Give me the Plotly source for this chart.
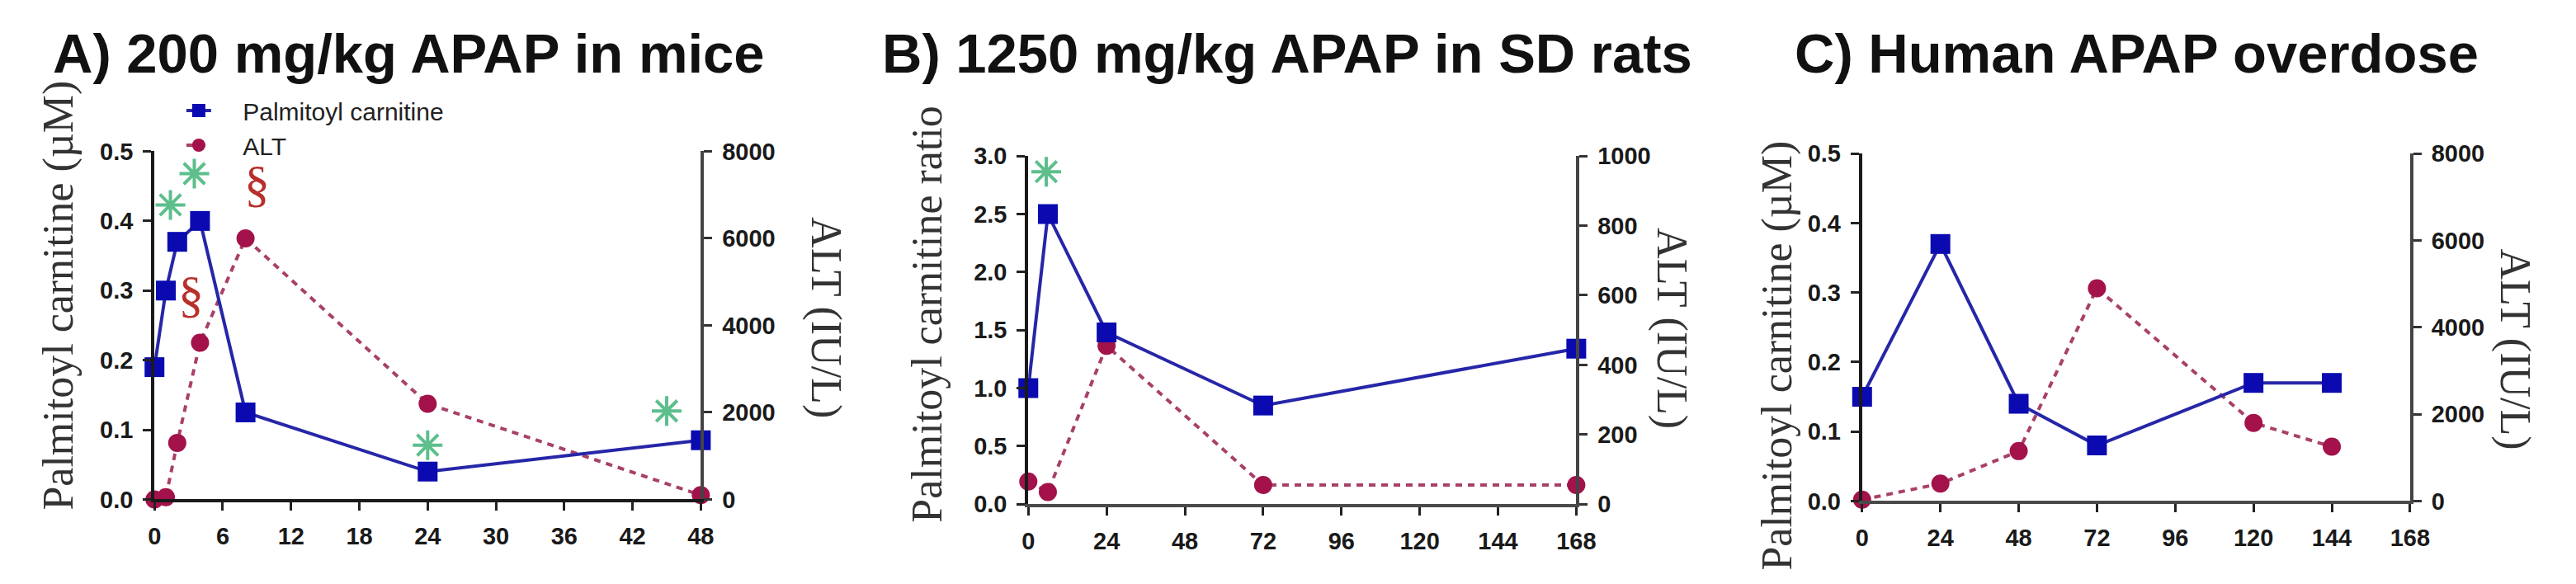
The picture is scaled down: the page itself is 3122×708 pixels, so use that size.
import plotly.graph_objects as go

W, H = 3122, 708

# ---------------- data ----------------
# Panel A: 200 mg/kg APAP in mice
a_time = [0, 1, 2, 4, 8, 24, 48]
a_pc = [0.19, 0.30, 0.37, 0.40, 0.125, 0.04, 0.085]
a_alt = [0, 50, 1300, 3600, 6000, 2200, 100]
a_star_t = [1.4, 3.5, 24, 45]
a_star_y = [0.423, 0.468, 0.078, 0.127]
a_sect_t = [3.2, 9.0]
a_sect_y = [0.294, 0.453]

# Panel B: 1250 mg/kg APAP in SD rats
b_time = [0, 6, 24, 72, 168]
b_pc = [1.0, 2.5, 1.48, 0.85, 1.34]
b_alt = [65, 35, 455, 55, 55]
b_star_t = [5.5]
b_star_y = [2.865]

# Panel C: Human APAP overdose
c_time = [0, 24, 48, 72, 120, 144]
c_pc = [0.15, 0.37, 0.14, 0.08, 0.17, 0.17]
c_alt = [30, 400, 1150, 4900, 1800, 1250]

titles = ["A) 200 mg/kg APAP in mice", "B) 1250 mg/kg APAP in SD rats", "C) Human APAP overdose"]
left_titles = ["Palmitoyl carnitine (µM)", "Palmitoyl carnitine ratio", "Palmitoyl carnitine (µM)"]
right_title = "ALT (IU/L)"
legend_names = ["Palmitoyl carnitine", "ALT"]

a_xticks = [0, 6, 12, 18, 24, 30, 36, 42, 48]
bc_xticks = [0, 24, 48, 72, 96, 120, 144, 168]
a_pc_ticks = [0.0, 0.1, 0.2, 0.3, 0.4, 0.5]
b_pc_ticks = [0.0, 0.5, 1.0, 1.5, 2.0, 2.5, 3.0]
a_alt_ticks = [0, 2000, 4000, 6000, 8000]
b_alt_ticks = [0, 200, 400, 600, 800, 1000]

# ---------------- styles ----------------
BLUE_M = "#0a0ab0"
BLUE_L = "#2626a8"
RED_M = "#a3124a"
RED_L = "#a8406a"
GREEN = "#5cbf8c"
SECT = "#b8302c"
TICKFONT = dict(family="Liberation Sans, Arial", size=29, color="#1a1a1a", weight="bold")
SERIF = "Liberation Serif, Times New Roman"
PAD = "\u00a0" * 4


def xp(px):
    return px / W


def yp(py):
    return 1 - py / H


panels = [
    dict(xd=(173, 842), yd=(167, 609), t=a_time, pc=a_pc, alt=a_alt,
         xr=[0, 48], xt=a_xticks, pr=[0, 0.5], pt=a_pc_ticks,
         ar=[0, 8000], at=a_alt_ticks, st=a_star_t, sy=a_star_y, xl="#1a1a1a",
         title_c=(484, 42), lt=(56, 350), rt=(995, 378)),
    dict(xd=(1243, 1914), yd=(173, 615), t=b_time, pc=b_pc, alt=b_alt,
         xr=[0, 168], xt=bc_xticks, pr=[0, 3.0], pt=b_pc_ticks,
         ar=[0, 1000], at=b_alt_ticks, st=b_star_t, sy=b_star_y, xl="#4a4a4a",
         title_c=(1560, 42), lt=(1119, 374), rt=(2031, 392)),
    dict(xd=(2264, 2935), yd=(170, 611), t=c_time, pc=c_pc, alt=c_alt,
         xr=[0, 168], xt=bc_xticks, pr=[0, 0.5], pt=a_pc_ticks,
         ar=[0, 8000], at=a_alt_ticks, st=[], sy=[], xl="#4a4a4a",
         title_c=(2600, 42), lt=(2160, 426), rt=(3063, 418)),
]

fig = go.Figure()
layout = dict(
    width=W, height=H, margin=dict(l=0, r=0, t=0, b=0), autosize=False,
    paper_bgcolor="white", plot_bgcolor="white",
    annotations=[],
    legend=dict(x=xp(207), y=yp(88), xanchor="left", yanchor="top",
                font=dict(family="Liberation Sans, Arial", size=30, color="#222"),
                bgcolor="rgba(0,0,0,0)", tracegroupgap=12,
                traceorder="normal"),
)

for i, p in enumerate(panels):
    xn = "x" if i == 0 else f"x{i+1}"
    ybase_n = "y" if i == 0 else f"y{2*i+1}"
    yover_n = f"y{2*i+2}"
    xkey = "xaxis" if i == 0 else f"xaxis{i+1}"
    ybkey = "yaxis" if i == 0 else f"yaxis{2*i+1}"
    yokey = f"yaxis{2*i+2}"

    layout[xkey] = dict(
        domain=[xp(p["xd"][0]), xp(p["xd"][1])], range=p["xr"], anchor=ybase_n,
        showline=True, linecolor=p["xl"], linewidth=4, ticks="outside", ticklen=10,
        tickwidth=3, tickcolor="#222", tickvals=p["xt"], tickfont=TICKFONT,
        showgrid=False, zeroline=False, ticklabelstandoff=6, fixedrange=True)
    layout[ybkey] = dict(
        domain=[yp(p["yd"][1]), yp(p["yd"][0])], range=p["ar"], anchor=xn, side="right",
        showline=True, linecolor="#444", linewidth=4, ticks="outside", ticklen=10,
        tickwidth=3, tickcolor="#333", tickvals=p["at"], tickfont=TICKFONT,
        showgrid=False, zeroline=False, ticklabelstandoff=6, fixedrange=True)
    layout[yokey] = dict(
        overlaying=ybase_n, range=p["pr"], anchor=xn, side="left",
        showline=True, linecolor="#1a1a1a", linewidth=4, ticks="outside", ticklen=10,
        tickwidth=3, tickcolor="#222", tickvals=p["pt"], tickformat=".1f",
        tickfont=TICKFONT, showgrid=False, zeroline=False, ticklabelstandoff=6,
        fixedrange=True)

    show = i == 0
    # palmitoyl carnitine (left axis, overlay -> drawn above ALT)
    fig.add_trace(go.Scatter(
        x=p["t"], y=p["pc"], xaxis=xn, yaxis=yover_n, mode="lines+markers",
        name=PAD + legend_names[0], showlegend=show, legendgroup=f"pc{i}",
        line=dict(color=BLUE_L, width=4),
        marker=dict(symbol="square", size=24, color=BLUE_M),
        cliponaxis=False))
    # ALT (right axis)
    fig.add_trace(go.Scatter(
        x=p["t"], y=p["alt"], xaxis=xn, yaxis=ybase_n, mode="lines+markers",
        name=PAD + legend_names[1], showlegend=show, legendgroup=f"alt{i}",
        line=dict(color=RED_L, width=4, dash="8px,7px"),
        marker=dict(symbol="circle", size=22, color=RED_M),
        cliponaxis=False))
    if p["st"]:
        fig.add_trace(go.Scatter(
            x=p["st"], y=p["sy"], xaxis=xn, yaxis=yover_n, mode="markers",
            showlegend=False, hoverinfo="skip",
            marker=dict(symbol="asterisk-open", size=30, color=GREEN,
                        line=dict(color=GREEN, width=4)),
            cliponaxis=False))

    ann = layout["annotations"]
    ann.append(dict(text=titles[i], xref="paper", yref="paper",
                    x=xp(p["title_c"][0]), y=yp(p["title_c"][1]),
                    xanchor="center", yanchor="middle", showarrow=False,
                    font=dict(family="Liberation Sans, Arial", size=67,
                              color="#111", weight="bold")))
    ann.append(dict(text=left_titles[i], xref="paper", yref="paper",
                    x=xp(p["lt"][0]), y=yp(p["lt"][1]), textangle=-90,
                    xanchor="center", yanchor="middle", showarrow=False,
                    font=dict(family=SERIF, size=52, color="#333")))
    ann.append(dict(text=right_title, xref="paper", yref="paper",
                    x=xp(p["rt"][0]), y=yp(p["rt"][1]), textangle=90,
                    xanchor="center", yanchor="middle", showarrow=False,
                    font=dict(family=SERIF, size=52, color="#333")))

# section signs (ALT significance) in panel A
for t, v in zip(a_sect_t, a_sect_y):
    layout["annotations"].append(dict(
        text="§", xref="x", yref="y2", x=t, y=v, showarrow=False,
        xanchor="center", yanchor="middle",
        font=dict(family=SERIF, size=62, color=SECT)))

fig.update_layout(**layout)
fig.write_html("out.html")
